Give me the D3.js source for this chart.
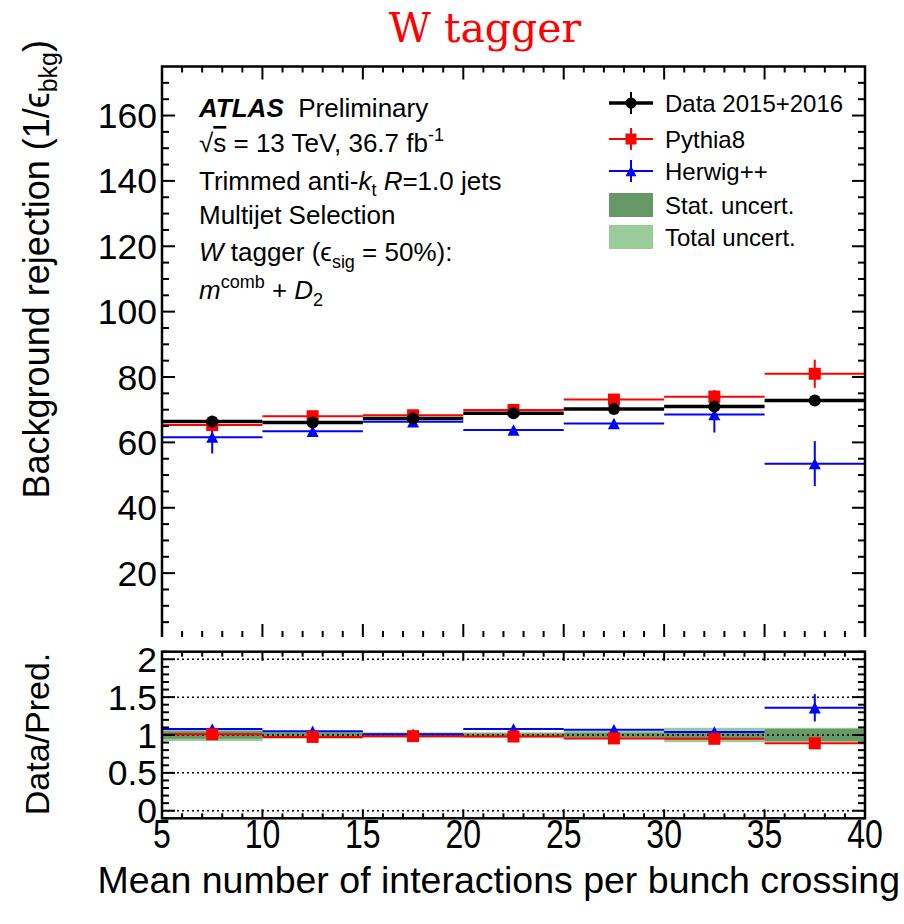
<!DOCTYPE html>
<html>
<head>
<style>
body { margin: 0; background: #fff; }
svg { display: block; font-family: "Liberation Sans", Arial, Helvetica, sans-serif; }
</style>
</head>
<body>
<svg id="chart" width="904" height="924"></svg>
<script src="https://cdnjs.cloudflare.com/ajax/libs/d3/7.8.5/d3.min.js"></script>
<script>
// bins of <mu>
let binEdges = [5, 10, 15, 20, 25, 30, 35, 40];

// upper panel: background rejection
let dataVals = [66.4, 66.1, 67.3, 68.9, 70.2, 71.0, 72.8];
let dataErrs = [0.6, 0.5, 0.5, 0.5, 0.6, 0.8, 1.0];
let pythiaVals = [65.3, 68.0, 68.3, 69.9, 73.1, 74.0, 81.0];
let pythiaErrs = [1.0, 0.8, 0.8, 0.8, 1.0, 2.0, 4.3];
let herwigVals = [61.6, 63.4, 66.3, 63.8, 65.8, 68.5, 53.5];
let herwigErrs = [5.0, 1.2, 1.5, 1.0, 1.2, 5.5, 6.9];

// lower panel: data / prediction
let ratioPythia = [1.01, 0.975, 0.985, 0.98, 0.955, 0.95, 0.89];
let ratioPythiaErrs = [0.02, 0.01, 0.01, 0.01, 0.01, 0.02, 0.04];
let ratioHerwig = [1.08, 1.05, 1.01, 1.08, 1.07, 1.04, 1.36];
let ratioHerwigErrs = [0.05, 0.02, 0.02, 0.02, 0.02, 0.03, 0.18];
let statUnc = [0.05, 0.03, 0.02, 0.02, 0.03, 0.05, 0.08];
let totalUnc = [0.08, 0.05, 0.035, 0.035, 0.055, 0.095, 0.095];

let xTicks = [5, 10, 15, 20, 25, 30, 35, 40];
let yTopTicks = [20, 40, 60, 80, 100, 120, 140, 160];
let yRatioTicks = [0, 0.5, 1, 1.5, 2];
let yRatioLabels = ['0', '0.5', '1', '1.5', '2'];

let colors = { data: '#000000', pythia: '#ff0000', herwig: '#0000ff', stat: '#669966', total: '#99cc99' };

let svg = d3.select('#chart');

let x = d3.scaleLinear().domain([5, 40]).range([162, 865]);
let yTop = d3.scaleLinear().domain([0, 175]).range([638.5, 66.5]);
let yRat = d3.scaleLinear().domain([-0.1, 2.1]).range([818.3, 651.7]);
let topBottom = 637;

let bins = d3.range(binEdges.length - 1).map(i => ({ lo: binEdges[i], hi: binEdges[i + 1], mid: (binEdges[i] + binEdges[i + 1]) / 2 }));

function marker(g, type, cx, cy, color, s) {
	if (type === 'circle') {
		g.append('circle').attr('cx', cx).attr('cy', cy).attr('r', s * 0.5).attr('fill', color);
	} else if (type === 'square') {
		g.append('rect').attr('x', cx - s / 2).attr('y', cy - s / 2).attr('width', s).attr('height', s).attr('fill', color);
	} else {
		let h = s * 0.95;
		g.append('path').attr('d', `M${cx - s / 2},${cy + h / 2}L${cx + s / 2},${cy + h / 2}L${cx},${cy - h / 2}Z`).attr('fill', color);
	}
}

function drawSeries(y, vals, errs, color, type, lw, size) {
	let g = svg.append('g');
	bins.forEach((b, i) => {
		g.append('line')
			.attr('x1', x(b.lo)).attr('x2', x(b.hi))
			.attr('y1', y(vals[i])).attr('y2', y(vals[i]))
			.attr('stroke', color).attr('stroke-width', lw);
		g.append('line')
			.attr('x1', x(b.mid)).attr('x2', x(b.mid))
			.attr('y1', y(vals[i] - errs[i])).attr('y2', y(vals[i] + errs[i]))
			.attr('stroke', color).attr('stroke-width', 2);
		marker(g, type, x(b.mid), y(vals[i]), color, size);
	});
}

// ---------- upper panel ----------
drawSeries(yTop, herwigVals, herwigErrs, colors.herwig, 'triangle', 2, 12);
drawSeries(yTop, pythiaVals, pythiaErrs, colors.pythia, 'square', 2, 12);
drawSeries(yTop, dataVals, dataErrs, colors.data, 'circle', 3.5, 12);

// frame (bottom edge is cut by the pad)
svg.append('path')
	.attr('d', `M${x(5)},${topBottom}V${yTop(175)}H${x(40)}V${topBottom}`)
	.attr('fill', 'none').attr('stroke', '#000').attr('stroke-width', 2.5);

let xMinor = d3.range(5, 40.01, 1);
let yTopMinor = d3.range(5, 175, 5);
let yRatMinor = d3.range(-0.1, 2.101, 0.1).map(v => +v.toFixed(2));

function ticks(g, list, fn) {
	list.forEach(v => {
		let d = fn(v);
		if (d) g.append('line').attr('x1', d[0]).attr('y1', d[1]).attr('x2', d[2]).attr('y2', d[3]);
	});
}

let tg = svg.append('g').attr('stroke', '#000').attr('stroke-width', 2);
// upper x ticks (top and bottom)
ticks(tg, xMinor, v => { let L = v % 5 === 0 ? 13 : 6; return [x(v), yTop(175), x(v), yTop(175) + L]; });
ticks(tg, xMinor, v => { let L = v % 5 === 0 ? 13 : 6; return [x(v), topBottom, x(v), topBottom - L]; });
// upper y ticks (left and right)
ticks(tg, yTopMinor, v => { let L = v % 20 === 0 ? 13 : 7; return [x(5), yTop(v), x(5) + L, yTop(v)]; });
ticks(tg, yTopMinor, v => { let L = v % 20 === 0 ? 13 : 7; return [x(40), yTop(v), x(40) - L, yTop(v)]; });

// upper y labels
svg.append('g').selectAll('text').data(yTopTicks).join('text')
	.attr('x', 157).attr('y', d => yTop(d) + 12.5)
	.attr('text-anchor', 'end').attr('font-size', 35.5)
	.text(d => d);

// y title
let yt = svg.append('text')
	.attr('transform', 'translate(49,40) rotate(-90)')
	.attr('text-anchor', 'end').attr('font-size', 36);
yt.append('tspan').text('Background rejection (1/ϵ');
yt.append('tspan').attr('font-size', 25).attr('dy', 8).text('bkg');
yt.append('tspan').attr('dy', -8).text(')');

// ATLAS label block
let lx = 199;
let t1 = svg.append('text').attr('x', lx).attr('y', 117).attr('font-size', 26);
t1.append('tspan').attr('font-weight', 'bold').attr('font-style', 'italic').text('ATLAS');
t1.append('tspan').text('\u00a0 Preliminary');

let t2 = svg.append('text').attr('x', lx).attr('y', 152).attr('font-size', 26);
t2.append('tspan').text('√');
t2.append('tspan').attr('text-decoration', 'overline').text('s');
t2.append('tspan').text(' = 13 TeV, 36.7 fb');
t2.append('tspan').attr('font-size', 18).attr('dy', -11).text('-1');

let t3 = svg.append('text').attr('x', lx).attr('y', 190).attr('font-size', 26);
t3.append('tspan').text('Trimmed anti-');
t3.append('tspan').attr('font-style', 'italic').text('k');
t3.append('tspan').attr('font-size', 18).attr('dy', 6).text('t');
t3.append('tspan').attr('dy', -6).text(' ');
t3.append('tspan').attr('font-style', 'italic').text('R');
t3.append('tspan').text('=1.0 jets');

svg.append('text').attr('x', lx).attr('y', 224).attr('font-size', 26).text('Multijet Selection');

let t5 = svg.append('text').attr('x', lx).attr('y', 261).attr('font-size', 26);
t5.append('tspan').attr('font-style', 'italic').text('W');
t5.append('tspan').text(' tagger (ϵ');
t5.append('tspan').attr('font-size', 18).attr('dy', 7).text('sig');
t5.append('tspan').attr('dy', -7).text(' = 50%):');

let t6 = svg.append('text').attr('x', lx).attr('y', 299).attr('font-size', 26);
t6.append('tspan').attr('font-style', 'italic').text('m');
t6.append('tspan').attr('font-size', 18).attr('dy', -11).text('comb');
t6.append('tspan').attr('dy', 11).text(' + ');
t6.append('tspan').attr('font-style', 'italic').text('D');
t6.append('tspan').attr('font-size', 18).attr('dy', 7).text('2');

// legend
let legendItems = [
	{ label: 'Data 2015+2016', kind: 'circle', color: colors.data, lw: 3.5 },
	{ label: 'Pythia8', kind: 'square', color: colors.pythia, lw: 2 },
	{ label: 'Herwig++', kind: 'triangle', color: colors.herwig, lw: 2 },
	{ label: 'Stat. uncert.', kind: 'box', color: colors.stat },
	{ label: 'Total uncert.', kind: 'box', color: colors.total }
];
let legendY = [103, 139, 171, 205, 237];
let lg = svg.append('g');
legendItems.forEach((it, i) => {
	let cy = legendY[i];
	if (it.kind === 'box') {
		lg.append('rect').attr('x', 609).attr('y', cy - 12).attr('width', 44).attr('height', 24).attr('fill', it.color);
	} else {
		lg.append('line').attr('x1', 609).attr('x2', 653).attr('y1', cy).attr('y2', cy).attr('stroke', it.color).attr('stroke-width', it.lw);
		lg.append('line').attr('x1', 631).attr('x2', 631).attr('y1', cy - 11).attr('y2', cy + 11).attr('stroke', it.color).attr('stroke-width', 2);
		marker(lg, it.kind, 631, cy, it.color, 11);
	}
	lg.append('text').attr('x', 665).attr('y', cy + 9).attr('font-size', 24).text(it.label);
});

// ---------- lower panel ----------
let bg = svg.append('g');
bins.forEach((b, i) => {
	bg.append('rect').attr('x', x(b.lo)).attr('width', x(b.hi) - x(b.lo))
		.attr('y', yRat(1 + totalUnc[i])).attr('height', yRat(1 - totalUnc[i]) - yRat(1 + totalUnc[i]))
		.attr('fill', colors.total);
	bg.append('rect').attr('x', x(b.lo)).attr('width', x(b.hi) - x(b.lo))
		.attr('y', yRat(1 + statUnc[i])).attr('height', yRat(1 - statUnc[i]) - yRat(1 + statUnc[i]))
		.attr('fill', colors.stat);
});

// dotted reference lines
svg.append('g').selectAll('line').data(yRatioTicks).join('line')
	.attr('x1', x(5)).attr('x2', x(40))
	.attr('y1', d => yRat(d)).attr('y2', d => yRat(d))
	.attr('stroke', '#000').attr('stroke-width', 1.5).attr('stroke-dasharray', '2,3');

drawSeries(yRat, ratioHerwig, ratioHerwigErrs, colors.herwig, 'triangle', 2, 12);
drawSeries(yRat, ratioPythia, ratioPythiaErrs, colors.pythia, 'square', 2, 12);

svg.append('rect').attr('x', x(5)).attr('y', yRat(2.1)).attr('width', x(40) - x(5)).attr('height', yRat(-0.1) - yRat(2.1))
	.attr('fill', 'none').attr('stroke', '#000').attr('stroke-width', 2.5);

let tg2 = svg.append('g').attr('stroke', '#000').attr('stroke-width', 2);
ticks(tg2, xMinor, v => { let L = v % 5 === 0 ? 9 : 5; return [x(v), yRat(2.1), x(v), yRat(2.1) + L]; });
ticks(tg2, xMinor, v => { let L = v % 5 === 0 ? 9 : 5; return [x(v), yRat(-0.1), x(v), yRat(-0.1) - L]; });
ticks(tg2, yRatMinor, v => { let L = Math.abs(v * 2 - Math.round(v * 2)) < 1e-6 ? 13 : 7; return [x(5), yRat(v), x(5) + L, yRat(v)]; });
ticks(tg2, yRatMinor, v => { let L = Math.abs(v * 2 - Math.round(v * 2)) < 1e-6 ? 13 : 7; return [x(40), yRat(v), x(40) - L, yRat(v)]; });

svg.append('g').selectAll('text').data(yRatioTicks).join('text')
	.attr('x', 157).attr('y', d => yRat(d) + 12.5)
	.attr('text-anchor', 'end').attr('font-size', 35.5)
	.text((d, i) => yRatioLabels[i]);

svg.append('text')
	.attr('transform', 'translate(49,734) rotate(-90)')
	.attr('text-anchor', 'middle').attr('font-size', 34)
	.text('Data/Pred.');

// x labels
svg.append('g').selectAll('text').data(xTicks).join('text')
	.attr('transform', d => `translate(${x(d)},848) scale(0.8,1)`)
	.attr('text-anchor', 'middle').attr('font-size', 40)
	.text(d => d);

svg.append('text').attr('x', 900).attr('y', 893)
	.attr('text-anchor', 'end').attr('font-size', 37.5)
	.text('Mean number of interactions per bunch crossing');

// title
svg.append('text').attr('x', 485).attr('y', 42)
	.attr('text-anchor', 'middle').attr('font-size', 41)
	.attr('font-family', '"DejaVu Serif", serif')
	.attr('fill', '#ff0000')
	.text('W tagger');
</script>
</body>
</html>
